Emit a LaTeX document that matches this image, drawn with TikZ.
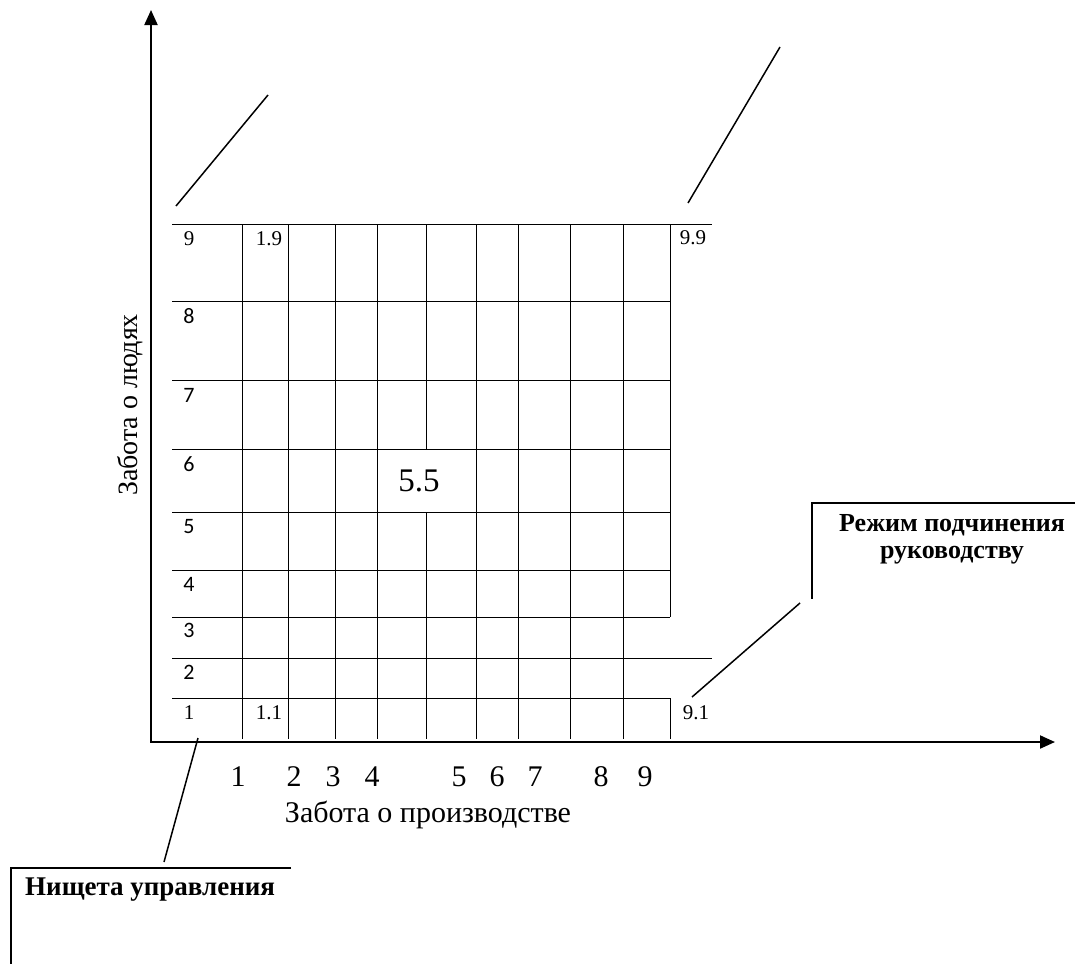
\documentclass[tikz,border=0pt]{standalone}
\usepackage{fontspec}
\setmainfont{Liberation Serif}
\newfontfamily\cellfont{Carlito}
\usetikzlibrary{arrows.meta,positioning}

\begin{document}
\begin{tikzpicture}[
  x=1pt, y=-1pt,
  axisline/.style={line width=2pt, {Triangle[length=15pt, width=13pt]}-{Triangle[length=15pt, width=13pt]}},
  gridline/.style={line width=1pt},
  callout/.style={line width=1.5pt},
  boxedge/.style={line width=1.5pt},
  rowlbl/.style={anchor=base, inner sep=0pt, font=\cellfont\fontsize{22}{26}\selectfont},
  cell/.style={anchor=base, inner sep=0pt, font=\fontsize{21}{25}\selectfont},
  tick/.style={anchor=base, inner sep=0pt, font=\fontsize{30}{34}\selectfont},
  note/.style={anchor=base, inner sep=0pt, font=\bfseries\fontsize{27}{30}\selectfont}]
\useasboundingbox (0,0) rectangle (1075,964);

% axes
\coordinate (ytop) at (151,10);
\coordinate (xend) at (1055,742);
\draw[axisline] (ytop) |- (xend);

% grid: rows 9..1, then columns
\foreach \y/\xe in {224/712, 301/670, 380/670, 449/670, 512/670, 570/670, 617/670, 658/712, 698/670}
  \draw[gridline] (172,\y) -- (\xe,\y);
\foreach \x in {242,288,335,377,476,518,570,623}
  \draw[gridline] (\x,224) -- (\x,739);
\draw[gridline] (426,224) -- (426,449) (426,512) -- (426,739);
\draw[gridline] (670,224) -- (670,617) (670,698) -- (670,739);

% row numbers
\node[cell] (r9) at (189,245) {9};
\foreach \n/\y in {8/323, 7/402, 6/471, 5/533, 4/591, 3/637, 2/679}
  \node[rowlbl] (r\n) at (189,\y) {\n};
\node[cell] (r1) at (189,719) {1};
\node[cell] (c19) at (269,245) {1.9};
\node[cell] (c11) at (269,719) {1.1};
\node[cell] (c99) at (693,244) {9.9};
\node[cell] (c91) at (696,719) {9.1};
\node[anchor=base, inner sep=0pt, font=\fontsize{33}{38}\selectfont] (c55) at (419,491) {5.5};

% axis numbers and titles
\foreach \n/\x in {1/238, 2/294, 3/333, 4/372, 5/459, 6/497, 7/535, 8/601, 9/645}
  \node[tick] (t\n) at (\x,786) {\n};
\node[tick] (xlbl) at (428,822) {Забота о производстве};
\node[tick, rotate=90, font=\fontsize{28}{32}\selectfont] (ylbl) at (137,405) {Забота о людях};

% notes
\node[note, font=\bfseries\fontsize{26}{30}\selectfont] (rezhim) at (952,531) {Режим подчинения};
\node[note, font=\bfseries\fontsize{26}{30}\selectfont] (rukov) at (952,558) {руководству};
\node[note, anchor=base west] (nishcheta) at (25,895) {Нищета управления};
\draw[boxedge] (1075,503) -- (812,503) -- (812,599);
\draw[boxedge] (291,868) -- (11,868) -- (11,964);

% callout lines
\coordinate (a1) at (176,206); \coordinate (a2) at (268,95);
\coordinate (b1) at (688,203); \coordinate (b2) at (780,47);
\coordinate (d1) at (692,697); \coordinate (d2) at (800,603);
\coordinate (e1) at (198,738); \coordinate (e2) at (164,862);
\foreach \p/\q in {a1/a2, b1/b2, d1/d2, e1/e2}
  \draw[callout] (\p) -- (\q);
\end{tikzpicture}
\end{document}
